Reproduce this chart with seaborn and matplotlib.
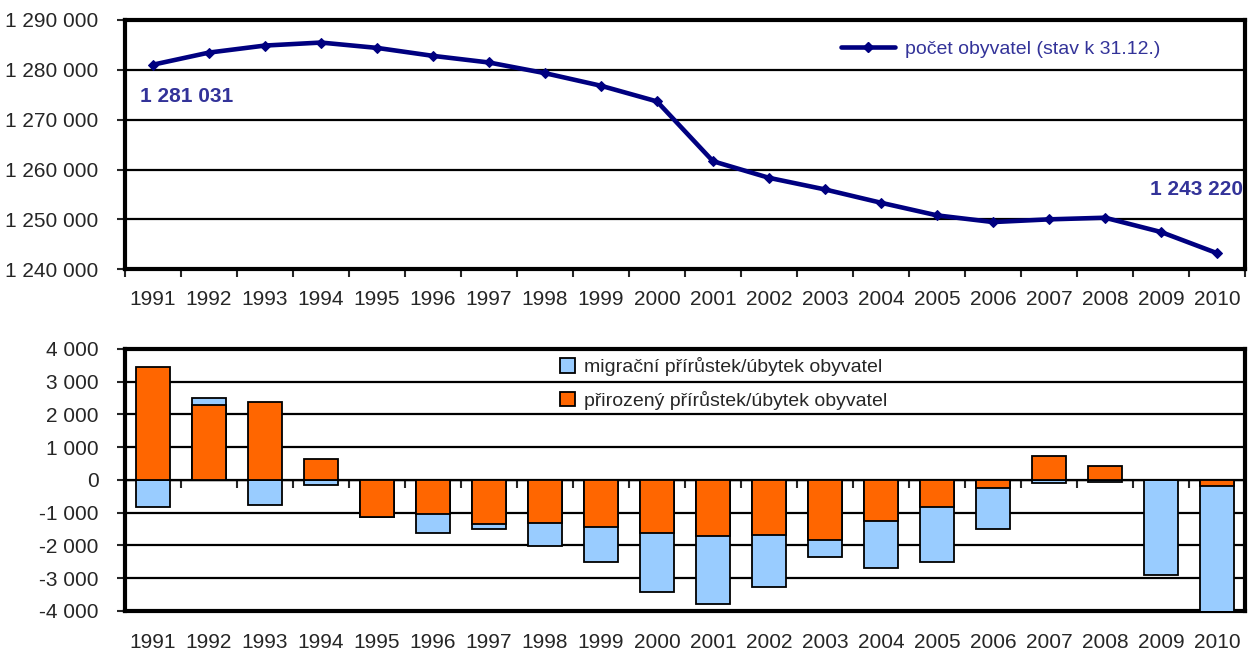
import matplotlib
matplotlib.use("Agg")
import matplotlib.pyplot as plt
import matplotlib.ticker as mticker
from matplotlib.lines import Line2D
from matplotlib.patches import Patch
import seaborn as sns
import numpy as np
import pandas as pd

years = [1991, 1992, 1993, 1994, 1995, 1996, 1997, 1998, 1999, 2000,
         2001, 2002, 2003, 2004, 2005, 2006, 2007, 2008, 2009, 2010]
population = [1281031, 1283460, 1284870, 1285470, 1284400, 1282800, 1281470,
              1279330, 1276800, 1273660, 1261660, 1258330, 1256000, 1253330,
              1250800, 1249460, 1250000, 1250330, 1247460, 1243220]
natural = [3436, 2277, 2380, 646, -1118, -1026, -1333, -1303, -1436, -1610,
           -1713, -1682, -1846, -1251, -821, -256, 718, 441, 0, -174]
migration = [-810, 213, -770, -154, -10, -585, -154, -718, -1067, -1815,
             -2082, -1590, -513, -1436, -1682, -1241, -92, -51, -2913, -3900]

pop_label = "počet obyvatel (stav k 31.12.)"
mig_label = "migrační přírůstek/úbytek obyvatel"
nat_label = "přirozený přírůstek/úbytek obyvatel"
first_label = "1 281 031"
last_label = "1 243 220"

sns.set_theme(style="white")
plt.rcParams['font.family'] = ['Liberation Sans', 'DejaVu Sans']

LINE_C = "#000080"
TXT_C = "#333399"
ORANGE = "#FF6600"
BLUE = "#99CCFF"
FS = 15

fig = plt.figure(figsize=(12.5, 6.55), dpi=100)
ax1 = fig.add_axes([0.1, 0.589, 0.896, 0.3805])
ax2 = fig.add_axes([0.1, 0.0672, 0.896, 0.4])

def space_fmt(v, pos=None):
    s = f"{abs(v):,.0f}".replace(",", " ")
    return ("-" + s) if v < 0 else s

# ---------- top: population line ----------
df1 = pd.DataFrame({"year": years, "pop": population})
sns.lineplot(data=df1, x="year", y="pop", ax=ax1, color=LINE_C, lw=3.3,
             marker="D", markersize=5.5, markeredgecolor=LINE_C, zorder=5)
ax1.set_xlim(years[0] - 0.5, years[-1] + 0.5)
ax1.set_ylim(1240000, 1290000)
ax1.set_yticks(np.arange(1240000, 1290001, 10000))
ax1.yaxis.set_major_formatter(mticker.FuncFormatter(space_fmt))
ax1.set_xticks(years)
ax1.set_xticks(np.arange(years[0] - 0.5, years[-1] + 0.51, 1), minor=True)
ax1.tick_params(axis='x', which='major', length=0, pad=15, labelsize=FS)
ax1.tick_params(axis='x', which='minor', length=6, width=1.5, direction='out', bottom=True)
ax1.tick_params(axis='y', length=6, width=1.5, direction='out', left=True, pad=13, labelsize=FS)
ax1.set_xlabel("")
ax1.set_ylabel("")
ax1.grid(axis='y', color='black', lw=1.6)
ax1.grid(axis='x', visible=False)
for sp in ax1.spines.values():
    sp.set_color('black')
    sp.set_linewidth(3)
ax1.annotate(first_label, (years[0], population[0]), xytext=(-9, -27),
             textcoords='offset points', fontsize=15, fontweight='bold', color=TXT_C)
ax1.annotate(last_label, (years[-1], population[-1]), xytext=(-15, 42),
             textcoords='offset points', fontsize=15, fontweight='bold', color=TXT_C,
             ha='center')
h1 = Line2D([], [], color=LINE_C, lw=3.3, marker="D", markersize=5.5)
leg1 = ax1.legend([h1], [pop_label], loc='upper right', bbox_to_anchor=(0.94, 0.99),
                  frameon=False, fontsize=14, handlelength=2.8, handletextpad=0.5)
for t in leg1.get_texts():
    t.set_color(TXT_C)

# ---------- bottom: stacked bars ----------
nat = np.array(natural)
mig = np.array(migration)
outer = np.where(np.sign(nat) == np.sign(mig), nat + mig, mig)
ylab = [str(y) for y in years]
df2 = pd.DataFrame({"year": ylab, "outer": outer, "nat": nat})
sns.barplot(data=df2, x="year", y="outer", ax=ax2, color=BLUE, saturation=1,
            width=0.59, edgecolor='black', linewidth=1.3, zorder=3)
sns.barplot(data=df2, x="year", y="nat", ax=ax2, color=ORANGE, saturation=1,
            width=0.59, edgecolor='black', linewidth=1.3, zorder=4)
ax2.set_xlim(-0.5, len(years) - 0.5)
ax2.set_ylim(-4000, 4000)
ax2.set_yticks(np.arange(-4000, 4001, 1000))
ax2.yaxis.set_major_formatter(mticker.FuncFormatter(space_fmt))
ax2.tick_params(axis='x', which='major', length=0, pad=16, labelsize=FS)
ax2.tick_params(axis='y', length=6, width=1.5, direction='out', left=True, pad=13, labelsize=FS)
ax2.set_xlabel("")
ax2.set_ylabel("")
ax2.grid(axis='y', color='black', lw=1.6, zorder=0)
ax2.grid(axis='x', visible=False)
ax2.set_axisbelow(True)
for sp in ax2.spines.values():
    sp.set_color('black')
    sp.set_linewidth(3)
sec = ax2.secondary_xaxis(0.4999)
sec.set_xticks(np.arange(-0.5, len(years) - 0.49, 1))
sec.tick_params(axis='x', length=6, width=1.5, direction='out', labelbottom=False,
                labeltop=False, bottom=True)
sec.spines['bottom'].set_linewidth(1)
sec.spines['bottom'].set_color('black')
h_m = Patch(facecolor=BLUE, edgecolor='black', lw=1.3)
h_n = Patch(facecolor=ORANGE, edgecolor='black', lw=1.3)
ax2.legend([h_m, h_n], [mig_label, nat_label], loc='upper left',
           bbox_to_anchor=(0.373, 1.035), frameon=False, fontsize=14,
           handlelength=0.75, handleheight=0.75, handletextpad=0.45, labelspacing=0.75)

fig.savefig("out.png", dpi=100)
